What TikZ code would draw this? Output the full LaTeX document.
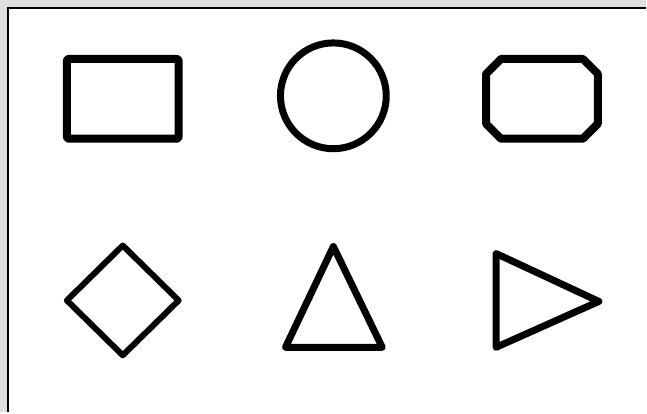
\documentclass[tikz,border=0pt]{standalone}
\usepackage{xcolor}
\usepackage{tikz}

\tikzset{
    boxoutline/.style={draw=black, line width=8pt, line join=round},
    outline/.style={draw=black, line width=7pt, line join=round},
    thinoutline/.style={draw=black, line width=6pt, line join=round}
}

\begin{document}
\begin{tikzpicture}[x=1pt, y=-1pt]
    % Window background and frame
    \fill[gray!25] (0,0) rectangle (647,413);
    \fill[white] (8,8) rectangle (647,413);
    \draw[line width=2.5pt] (8,413) -- (8,8) -- (647,8);
    \useasboundingbox (0,0) rectangle (647,413);

    % Top row: rectangle, circle, chamfered box
    \draw[boxoutline, rounded corners=2pt] (67,59) rectangle (179,139);
    \draw[outline] (334,96) circle (53);
    \draw[boxoutline] (502,59) -- (584,59) -- (599,74) -- (599,124) -- (584,139)
        -- (502,139) -- (487,124) -- (487,74) -- cycle;

    % Bottom row: diamond, triangle up, triangle right
    \draw[thinoutline] (123,246) -- (179,301) -- (123,356) -- (67,301) -- cycle;
    \draw[outline] (334,247) -- (383,348) -- (286,348) -- cycle;
    \draw[outline] (497,254) -- (600,302) -- (497,348) -- cycle;
\end{tikzpicture}
\end{document}
